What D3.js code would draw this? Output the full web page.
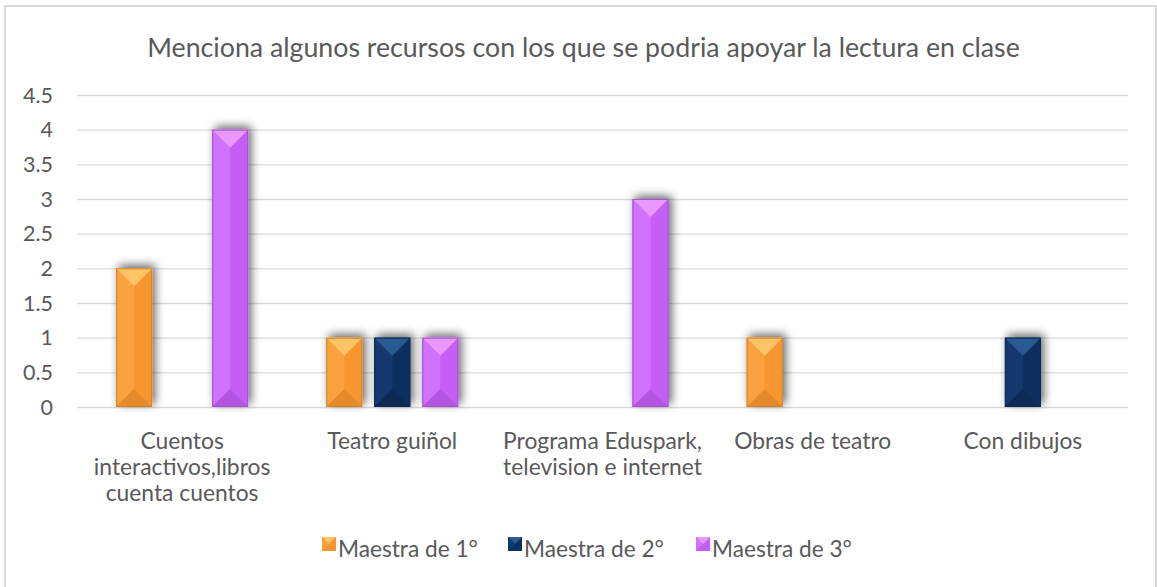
<!DOCTYPE html>
<html><head><meta charset="utf-8">
<script src="https://cdn.jsdelivr.net/npm/d3@7"></script>
<style>body{margin:0;background:#fff}svg{display:block;font-family:Lato,"Open Sans",sans-serif}</style>
</head><body><svg id="c" width="1157" height="587"></svg>
<script>
const title = "Menciona algunos recursos con los que se podria apoyar la lectura en clase";
const categories = [
  ["Cuentos","interactivos,libros","cuenta cuentos"],
  ["Teatro guiñol"],
  ["Programa Eduspark,","television e internet"],
  ["Obras de teatro"],
  ["Con dibujos"]
];
const seriesNames = ["Maestra de 1°","Maestra de 2°","Maestra de 3°"];
const maestra1 = [2,1,0,1,0];
const maestra2 = [0,1,0,0,1];
const maestra3 = [4,1,3,0,0];
const yTicks = [0,0.5,1,1.5,2,2.5,3,3.5,4,4.5];
const palette = [
  {base:"#F7962F", left:"#FBA23F", top:"#FFC466", bottom:"#E58A2A"},
  {base:"#0B2F5E", left:"#12396E", top:"#2C5A94", bottom:"#0A2A54"},
  {base:"#C35FF4", left:"#D071FF", top:"#EA97FF", bottom:"#B455E2"}
];
const series = [maestra1, maestra2, maestra3];

const svg = d3.select("#c");
const W = 1157, H = 587;
const m = {l:77, r:29};
svg.append("rect").attr("x",5).attr("y",6).attr("width",1151).attr("height",590)
  .attr("fill","#fff").attr("stroke","#d9d9d9").attr("stroke-width",2);

function fitSize(sample, target){
  const t = svg.append("text").attr("font-size",20).text(sample);
  const w = t.node().getComputedTextLength(); t.remove();
  return 20*target/w;
}
const fsTitle = fitSize(title, 873);
const fsTick = fitSize("4.5", 30);
const fsCat = fitSize("Teatro guiñol", 130);
const fsLeg = fitSize("Maestra de 1°", 140);

const defs = svg.append("defs");
const f = defs.append("filter").attr("id","sh").attr("x","-60%").attr("y","-30%").attr("width","220%").attr("height","160%");
f.append("feGaussianBlur").attr("in","SourceAlpha").attr("stdDeviation",5).attr("result","b");
f.append("feOffset").attr("in","b").attr("dx",3).attr("dy",-3).attr("result","o");
f.append("feComponentTransfer").attr("in","o").attr("result","oa").append("feFuncA").attr("type","linear").attr("slope",0.6);
const mg = f.append("feMerge"); mg.append("feMergeNode").attr("in","oa"); mg.append("feMergeNode").attr("in","SourceGraphic");

const x0 = d3.scaleBand().domain(d3.range(categories.length)).range([m.l, W-m.r]);
const y = d3.scaleLinear().domain([0,4.5]).range([407,95]);
const barW = 36, gap = 12;
const x1 = d3.scaleBand().domain([0,1,2]).range([-(barW*1.5+gap), barW*1.5+gap]).paddingInner(gap/(barW+gap)).paddingOuter(0);

svg.append("g").selectAll("line").data(yTicks).join("line")
  .attr("x1",m.l).attr("x2",W-m.r).attr("y1",d=>y(d)+0.5).attr("y2",d=>y(d)+0.5)
  .attr("stroke","#d9d9d9").attr("stroke-width",1.3);

svg.append("g").selectAll("text").data(yTicks).join("text")
  .attr("x",53).attr("y",d=>y(d)).attr("dy","0.36em").attr("text-anchor","end")
  .attr("font-size",fsTick).attr("fill","#595959").text(d=>d);

svg.append("text").attr("x",583.5).attr("y",57).attr("text-anchor","middle")
  .attr("font-size",fsTitle).attr("fill","#595959").text(title);

const cat = svg.append("g");
categories.forEach((lines,i)=>{
  const t = cat.append("text").attr("text-anchor","middle").attr("font-size",fsCat).attr("fill","#595959");
  lines.forEach((ln,j)=>t.append("tspan").attr("x",x0(i)+x0.bandwidth()/2).attr("y",449+j*26).text(ln));
});

function bevelBar(g, x, yTop, w, h, c){
  const gg = g.append("g").attr("filter","url(#sh)");
  gg.append("rect").attr("x",x).attr("y",yTop).attr("width",w).attr("height",h).attr("fill",c.base);
  const cx = x+w/2, b = Math.min(w/2, h/2);
  gg.append("polygon").attr("points",`${x},${yTop} ${cx},${yTop+b} ${cx},${yTop+h-b} ${x},${yTop+h}`).attr("fill",c.left);
  gg.append("polygon").attr("points",`${x},${yTop} ${x+w},${yTop} ${cx},${yTop+b}`).attr("fill",c.top);
  gg.append("polygon").attr("points",`${x},${yTop+h} ${x+w},${yTop+h} ${cx},${yTop+h-b}`).attr("fill",c.bottom);
  gg.append("rect").attr("x",x+0.5).attr("y",yTop+0.5).attr("width",w-1).attr("height",h-1).attr("fill","none").attr("stroke",d3.color(c.base).darker(0.4)).attr("stroke-width",1);
}
const bars = svg.append("g");
series.forEach((s,si)=>{
  s.forEach((v,ci)=>{
    if(v<=0) return;
    const cx = x0(ci)+x0.bandwidth()/2;
    bevelBar(bars, cx + x1(si), y(v), x1.bandwidth(), y(0)-y(v), palette[si]);
  });
});

const leg = svg.append("g");
const legX = [322, 508, 696];
seriesNames.forEach((n,i)=>{
  const c = palette[i];
  const s = 14, lx = legX[i], ly = 537;
  leg.append("rect").attr("x",lx).attr("y",ly).attr("width",s).attr("height",s).attr("fill",c.base);
  leg.append("polygon").attr("points",`${lx},${ly} ${lx+s},${ly} ${lx+s/2},${ly+s/2}`).attr("fill",c.top);
  leg.append("polygon").attr("points",`${lx},${ly} ${lx+s/2},${ly+s/2} ${lx},${ly+s}`).attr("fill",c.left);
  leg.append("text").attr("x",lx+16).attr("y",557).attr("font-size",fsLeg).attr("fill","#595959").text(n);
});
</script></body></html>
